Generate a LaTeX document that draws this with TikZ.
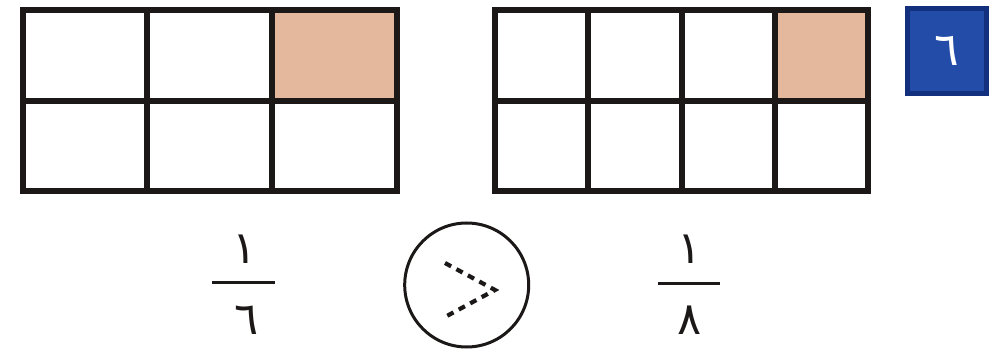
\documentclass[tikz,border=0pt]{standalone}
\usepackage{fontspec}
\newfontfamily\arabicfont[Script=Arabic]{DejaVu Sans}
\definecolor{shadecol}{RGB}{228,184,156}
\definecolor{badgedark}{RGB}{18,48,125}
\definecolor{badgemid}{RGB}{34,76,168}
\definecolor{inkcol}{RGB}{28,24,24}
\tikzset{
  gridline/.style={draw=inkcol, line width=6pt, line join=miter, line cap=rect},
  shadecell/.style={fill=shadecol},
  digit/.style={font=\arabicfont\fontsize{45}{45}\selectfont, inner sep=0pt, text=inkcol},
  fracbar/.style={draw=inkcol, line width=3pt},
  cmpcircle/.style={draw=inkcol, circle, line width=3pt, minimum size=124pt, inner sep=0pt},
  gtsign/.style={draw=inkcol, line width=4.2pt, dash pattern=on 7pt off 6pt},
  badgebox/.style={fill=badgedark, minimum width=84pt, minimum height=90pt, inner sep=0pt},
  badgeinner/.style={fill=badgemid, minimum width=74pt, minimum height=80pt, inner sep=0pt},
}
\begin{document}
\begin{tikzpicture}[x=1pt,y=-1pt]
\useasboundingbox (0,0) rectangle (989,358);
% left grid 3x2
\fill[shadecell] (271.9,9.7) rectangle (396.5,100.6);
\draw[gridline] (22.7,9.7) rectangle (396.5,191.5);
\draw[gridline] (147.3,9.7) -- (147.3,191.5);
\draw[gridline] (271.9,9.7) -- (271.9,191.5);
\draw[gridline] (22.7,100.6) -- (396.5,100.6);
% right grid 4x2
\fill[shadecell] (774.8,9.7) rectangle (868,100.6);
\draw[gridline] (495,9.7) rectangle (868,191.5);
\draw[gridline] (588.3,9.7) -- (588.3,191.5);
\draw[gridline] (681.5,9.7) -- (681.5,191.5);
\draw[gridline] (774.8,9.7) -- (774.8,191.5);
\draw[gridline] (495,100.6) -- (868,100.6);
% badge
\node[badgebox] (badge) at (947,51) {};
\node[badgeinner, text=white, font=\arabicfont\fontsize{46}{46}\selectfont] (badgetxt) at (947,51) {٦};
% fraction left
\node[digit] (numA) at (245,249) {١};
\node[digit] (denA) at (247,320) {٦};
\coordinate (barAl) at (212,283);
\coordinate (barAr) at (275,283);
\draw[fracbar] (barAl) -- (barAr);
% comparison circle
\node[cmpcircle] (cmp) at (466.7,285) {};
\coordinate (gtA) at (445,263);
\coordinate (gtB) at (495,290);
\coordinate (gtC) at (445,317);
\draw[gtsign] (gtA) -- (gtB) -- (gtC);
% fraction right
\node[digit] (numB) at (690,249) {١};
\node[digit] (denB) at (690,320) {٨};
\coordinate (barBl) at (658,284);
\coordinate (barBr) at (720,284);
\draw[fracbar] (barBl) -- (barBr);
\end{tikzpicture}
\end{document}
